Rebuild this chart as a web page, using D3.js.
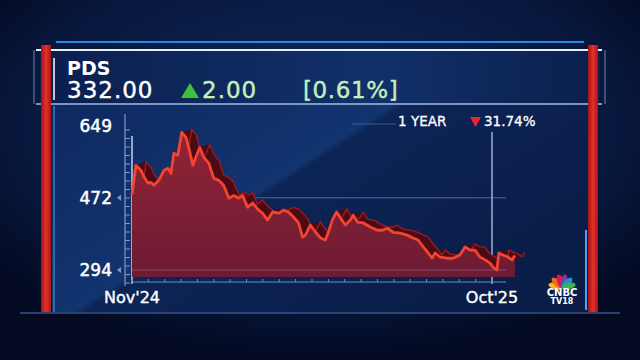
<!DOCTYPE html>
<html>
<head>
<meta charset="utf-8">
<script src="https://cdn.jsdelivr.net/npm/d3@7"></script>
<style>
  body { margin: 0; background: #030a22; }
  svg { display: block; }
  text { font-family: "DejaVu Sans", sans-serif; }
</style>
</head>
<body>
<div id="chart"></div>
<script>
// stock header
var ticker = "PDS";
var lastPrice = "332.00";
var change = "2.00";
var changePct = "[0.61%]";
var periodLabel = "1 YEAR";
var periodChange = "31.74%";

// y axis ticks and x labels
var yTicks = [294, 472, 649];
var xLabels = [{t: 0, label: "Nov'24"}, {t: 11, label: "Oct'25"}];

// price path: t = months since Nov'24
var months = [0, 0.12, 0.27, 0.37, 0.49, 0.58, 0.67, 0.82, 0.98, 1.10, 1.19, 1.28, 1.40, 1.52, 1.65,
  1.74, 1.86, 1.95, 2.07, 2.19, 2.35, 2.50, 2.65, 2.80, 2.96, 3.11, 3.26, 3.38, 3.53, 3.69, 3.84,
  3.99, 4.14, 4.30, 4.48, 4.63, 4.78, 4.94, 5.09, 5.21, 5.30, 5.45, 5.61, 5.76, 5.91, 6.00, 6.12,
  6.25, 6.37, 6.52, 6.67, 6.76, 6.89, 7.07, 7.28, 7.50, 7.65, 7.80, 7.98, 8.20, 8.41, 8.59, 8.74,
  8.90, 9.05, 9.17, 9.26, 9.41, 9.63, 9.81, 10.02, 10.18, 10.33, 10.48, 10.63, 10.79, 10.94, 11.03,
  11.15, 11.21, 11.33, 11.49, 11.61, 11.70];
var prices = [480, 552, 540, 523, 508, 510, 503, 515, 540, 545, 532, 582, 577, 633, 621,
  594, 552, 572, 596, 572, 557, 520, 515, 503, 471, 478, 471, 478, 449, 459, 444,
  434, 417, 437, 434, 441, 437, 424, 410, 375, 380, 405, 387, 373, 368, 387, 417,
  437, 422, 405, 417, 429, 412, 410, 400, 392, 392, 397, 387, 385, 380, 373, 368,
  351, 336, 323, 336, 326, 323, 323, 331, 351, 343, 343, 326, 319, 311, 301,
  294, 336, 331, 326, 319, 330];

var data = months.map(function (m, i) { return {t: m, v: prices[i]}; });

var W = 640, H = 360;
var svg = d3.select("#chart").append("svg").attr("width", W).attr("height", H);
var defs = svg.append("defs");

var bg = defs.append("radialGradient").attr("id", "bg").attr("cx", "50%").attr("cy", "35%").attr("r", "65%");
bg.append("stop").attr("offset", "0%").attr("stop-color", "#0f2a5c");
bg.append("stop").attr("offset", "70%").attr("stop-color", "#08183e");
bg.append("stop").attr("offset", "100%").attr("stop-color", "#030a22");

var panel = defs.append("linearGradient").attr("id", "panel").attr("x1", "0").attr("y1", "0").attr("x2", "1").attr("y2", "0.6");
panel.append("stop").attr("offset", "0%").attr("stop-color", "#0e2960");
panel.append("stop").attr("offset", "47%").attr("stop-color", "#12346f");
panel.append("stop").attr("offset", "48.5%").attr("stop-color", "#0c2456");
panel.append("stop").attr("offset", "100%").attr("stop-color", "#0a1d48");

var head = defs.append("linearGradient").attr("id", "head").attr("x1", "0").attr("y1", "0").attr("x2", "1").attr("y2", "0");
head.append("stop").attr("offset", "0%").attr("stop-color", "#0b1f4e");
head.append("stop").attr("offset", "60%").attr("stop-color", "#11306a");
head.append("stop").attr("offset", "100%").attr("stop-color", "#0b1f4c");

var area = defs.append("linearGradient").attr("id", "area").attr("x1", "0").attr("y1", "0").attr("x2", "0").attr("y2", "1");
area.append("stop").attr("offset", "0%").attr("stop-color", "#922436");
area.append("stop").attr("offset", "100%").attr("stop-color", "#6c1b34");

var redBar = defs.append("linearGradient").attr("id", "redBar").attr("x1", "0").attr("y1", "0").attr("x2", "1").attr("y2", "0");
redBar.append("stop").attr("offset", "0%").attr("stop-color", "#a01212");
redBar.append("stop").attr("offset", "50%").attr("stop-color", "#e5322c");
redBar.append("stop").attr("offset", "100%").attr("stop-color", "#a81414");

svg.append("rect").attr("width", W).attr("height", H).attr("fill", "url(#bg)");

// frame
svg.append("rect").attr("x", 52).attr("y", 104).attr("width", 536).attr("height", 208).attr("fill", "url(#panel)");
svg.append("rect").attr("x", 40).attr("y", 50).attr("width", 560).attr("height", 54).attr("fill", "url(#head)");
svg.append("line").attr("x1", 56).attr("x2", 584).attr("y1", 42).attr("y2", 42).attr("stroke", "#2a86e0").attr("stroke-width", 2);
svg.append("line").attr("x1", 36).attr("x2", 602).attr("y1", 50).attr("y2", 50).attr("stroke", "#e6eef8").attr("stroke-width", 2);
svg.append("line").attr("x1", 36).attr("x2", 602).attr("y1", 104).attr("y2", 104).attr("stroke", "#a6bde0").attr("stroke-width", 1.5);
svg.append("line").attr("x1", 34).attr("x2", 34).attr("y1", 50).attr("y2", 104).attr("stroke", "#6d87b8").attr("stroke-width", 1);
svg.append("line").attr("x1", 605).attr("x2", 605).attr("y1", 50).attr("y2", 104).attr("stroke", "#6d87b8").attr("stroke-width", 1);
svg.append("line").attr("x1", 54).attr("x2", 54).attr("y1", 58).attr("y2", 100).attr("stroke", "#ffffff").attr("stroke-width", 1.5);
svg.append("rect").attr("x", 41).attr("y", 45).attr("width", 10).attr("height", 267).attr("fill", "url(#redBar)");
svg.append("rect").attr("x", 588).attr("y", 45).attr("width", 10).attr("height", 267).attr("fill", "url(#redBar)");
svg.append("line").attr("x1", 586).attr("x2", 586).attr("y1", 230).attr("y2", 310).attr("stroke", "#4aa0ff").attr("stroke-width", 2);
svg.append("line").attr("x1", 54).attr("x2", 54).attr("y1", 106).attr("y2", 312).attr("stroke", "#3a78d0").attr("stroke-width", 1.5);
svg.append("line").attr("x1", 20).attr("x2", 620).attr("y1", 313).attr("y2", 313).attr("stroke", "#3a5a90").attr("stroke-width", 2).attr("opacity", 0.7);

// header text
svg.append("text").attr("x", 67).attr("y", 75).attr("fill", "#fff").attr("font-size", 19).attr("font-weight", "bold").text(ticker);
svg.append("text").attr("x", 67).attr("y", 98).attr("fill", "#fff").attr("font-size", 23).attr("letter-spacing", 1)
  .attr("stroke", "#fff").attr("stroke-width", 0.4).text(lastPrice);
svg.append("path").attr("d", "M181,98 L190,83 L199,98 Z").attr("fill", "#3cc23c");
svg.append("text").attr("x", 202).attr("y", 98).attr("fill", "#c4f0bc").attr("font-size", 23).attr("letter-spacing", 1)
  .attr("stroke", "#c4f0bc").attr("stroke-width", 0.4).text(change);
svg.append("text").attr("x", 303).attr("y", 98).attr("fill", "#c4f0bc").attr("font-size", 23).attr("letter-spacing", 0.6)
  .attr("stroke", "#c4f0bc").attr("stroke-width", 0.4).text(changePct);

// scales
var x = d3.scaleLinear().domain([0, 11]).range([132, 492]);
var y = d3.scaleLinear().domain([294, 649]).range([270, 126]);

// axes lines and ticks
var axisX = 125;
svg.append("line").attr("x1", axisX).attr("x2", axisX).attr("y1", 114).attr("y2", 286).attr("stroke", "#7f98c8").attr("stroke-width", 1.2);
svg.append("g").selectAll("line").data(d3.range(130, 284, 8.5)).enter().append("line")
  .attr("x1", axisX).attr("x2", axisX + 5).attr("y1", function (d) { return d; }).attr("y2", function (d) { return d; })
  .attr("stroke", "#7f98c8").attr("stroke-width", 1);
svg.append("line").attr("x1", x(0)).attr("x2", x(0)).attr("y1", 136).attr("y2", 284).attr("stroke", "#dfe8ff").attr("stroke-width", 1.3);

svg.append("g").selectAll("line").data(yTicks.slice(0, 2)).enter().append("line")
  .attr("x1", x(0)).attr("x2", 506).attr("y1", function (d) { return y(d); }).attr("y2", function (d) { return y(d); })
  .attr("stroke", "#5c7cb8").attr("stroke-width", 1).attr("opacity", 0.8);
svg.append("line").attr("x1", 352).attr("x2", 396).attr("y1", y(649) - 2).attr("y2", y(649) - 2).attr("stroke", "#5c7cb8").attr("opacity", 0.6);

svg.append("line").attr("x1", x(11)).attr("x2", x(11)).attr("y1", 132).attr("y2", 284).attr("stroke", "#c8d4ee").attr("stroke-width", 1.2);

// y labels
svg.append("g").selectAll("text").data(yTicks).enter().append("text")
  .attr("x", 112).attr("y", function (d) { return y(d) + 6; }).attr("text-anchor", "end")
  .attr("fill", "#fff").attr("stroke", "#fff").attr("stroke-width", 0.5)
  .attr("font-size", 17).text(function (d) { return d; });
svg.append("g").selectAll("path").data(yTicks.slice(0, 2)).enter().append("path")
  .attr("d", function (d) { var yy = y(d); return "M117," + yy + " L121," + (yy - 3) + " L121," + (yy + 3) + " Z"; })
  .attr("fill", "#7f98c8");

// price drawing: back ribbon, area, front line
var dx = 10, dy = -3;
var ribbon = svg.append("g");
for (var i = 0; i < data.length - 1; i++) {
  var a = data[i], b = data[i + 1];
  var pts = [[x(a.t), y(a.v)], [x(b.t), y(b.v)], [x(b.t) + dx, y(b.v) + dy], [x(a.t) + dx, y(a.v) + dy]];
  ribbon.append("path").attr("d", "M" + pts.join("L") + "Z").attr("fill", "#4c0a14").attr("stroke", "#4c0a14").attr("stroke-width", 0.6);
}
svg.append("path").datum(data)
  .attr("d", d3.line().x(function (d) { return x(d.t) + dx; }).y(function (d) { return y(d.v) + dy; }))
  .attr("fill", "none").attr("stroke", "#a81e22").attr("stroke-width", 1.4).attr("opacity", 0.85);

var bottomY = 277;
svg.append("path").datum(data)
  .attr("d", d3.area().x(function (d) { return x(d.t); }).y0(bottomY).y1(function (d) { return y(d.v); }))
  .attr("fill", "url(#area)");
svg.append("line").attr("x1", x(0)).attr("x2", 506).attr("y1", y(294)).attr("y2", y(294)).attr("stroke", "#b07a9a").attr("stroke-width", 1).attr("opacity", 0.5);

svg.append("path").datum(data)
  .attr("d", d3.line().x(function (d) { return x(d.t); }).y(function (d) { return y(d.v); }))
  .attr("fill", "none").attr("stroke", "#f4432f").attr("stroke-width", 2.8).attr("stroke-linejoin", "round");

// x axis
svg.append("line").attr("x1", x(0)).attr("x2", 506).attr("y1", 282).attr("y2", 282).attr("stroke", "#6f8cc4").attr("stroke-width", 1.2);
svg.append("g").selectAll("line").data(d3.range(0, 11.5, 0.5)).enter().append("line")
  .attr("x1", function (d) { return x(d); }).attr("x2", function (d) { return x(d); })
  .attr("y1", 279).attr("y2", 282).attr("stroke", "#6f8cc4");
svg.append("g").selectAll("text").data(xLabels).enter().append("text")
  .attr("x", function (d) { return x(d.t); }).attr("y", 303).attr("text-anchor", "middle")
  .attr("fill", "#fff").attr("stroke", "#fff").attr("stroke-width", 0.4)
  .attr("font-size", 16).text(function (d) { return d.label; });

// period change label
svg.append("text").attr("x", 398).attr("y", 126).attr("fill", "#fff").attr("stroke", "#fff").attr("stroke-width", 0.3)
  .attr("font-size", 13.5).text(periodLabel);
svg.append("path").attr("d", "M470,117 L481,117 L475.5,127 Z").attr("fill", "#e8282a");
svg.append("text").attr("x", 484).attr("y", 126).attr("fill", "#fff").attr("stroke", "#fff").attr("stroke-width", 0.3)
  .attr("font-size", 13.5).text(periodChange);

// CNBC TV18 logo
var petals = ["#f7b51c", "#f26b1d", "#e01a3c", "#7b3f98", "#1f8fd6", "#3ab54a"];
var logo = svg.append("g").attr("transform", "translate(562,288)");
petals.forEach(function (c, i) {
  var ang = -165 + i * 30;
  logo.append("ellipse").attr("cx", 0).attr("cy", -7).attr("rx", 3.2).attr("ry", 7)
    .attr("fill", c).attr("transform", "rotate(" + (ang + 90) + ")");
});
logo.append("text").attr("x", 0).attr("y", 8).attr("text-anchor", "middle").attr("fill", "#fff")
  .attr("font-size", 10).attr("font-weight", "bold").text("CNBC");
logo.append("text").attr("x", 0).attr("y", 16).attr("text-anchor", "middle").attr("fill", "#fff")
  .attr("font-size", 8).attr("font-weight", "bold").text("TV18");
</script>
</body>
</html>
